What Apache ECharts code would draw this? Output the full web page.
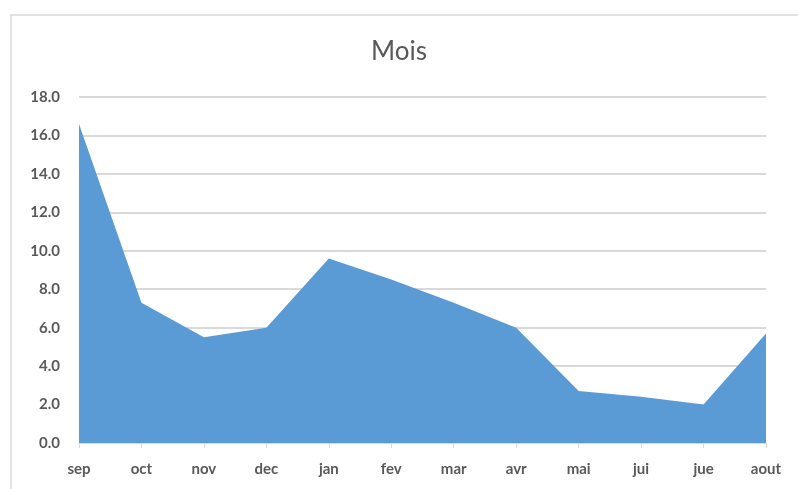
<!DOCTYPE html>
<html>
<head>
<meta charset="utf-8">
<script src="https://cdn.jsdelivr.net/npm/echarts@6/dist/echarts.min.js"></script>
<style>
  html, body { margin: 0; padding: 0; background: #fff; }
  #chart { width: 798px; height: 489px; }
</style>
</head>
<body>
<div id="chart"></div>
<script>
// mois de l'annee scolaire
const months = ['sep', 'oct', 'nov', 'dec', 'jan', 'fev', 'mar', 'avr', 'mai', 'jui', 'jue', 'aout']
const values = [16.6, 7.3, 5.5, 6.0, 9.6, 8.5, 7.3, 6.0, 2.7, 2.4, 2.0, 5.7]
const chartTitle = 'Mois'

const labelColor = '#595959'
const fontName = 'Lato'

const chart = echarts.init(document.getElementById('chart'))

const options = {
  animation: false,
  backgroundColor: '#fff',
  title: {
    text: chartTitle,
    left: 'center',
    top: 34,
    textStyle: { fontFamily: fontName, fontSize: 26, fontWeight: 'normal', color: labelColor }
  },
  grid: { left: 79, right: 32, top: 97, bottom: 46 },
  xAxis: {
    type: 'category',
    data: months,
    boundaryGap: false,
    axisLine: { lineStyle: { color: '#D9D9D9' } },
    axisTick: { show: true, alignWithLabel: true, length: 5, lineStyle: { color: '#D9D9D9' } },
    axisLabel: { color: labelColor, fontFamily: fontName, fontSize: 15, fontWeight: 'bold', margin: 19 }
  },
  yAxis: {
    type: 'value',
    min: 0,
    max: 18,
    interval: 2,
    axisLine: { show: false },
    axisTick: { show: false },
    axisLabel: {
      color: labelColor, fontFamily: fontName, fontSize: 15, fontWeight: 'bold', margin: 19,
      formatter: v => v.toFixed(1)
    },
    splitLine: { lineStyle: { color: '#D9D9D9', width: 2 } }
  },
  series: [{
    type: 'line',
    data: values,
    symbol: 'none',
    lineStyle: { width: 0 },
    areaStyle: { color: '#5B9BD5', opacity: 1 }
  }],
  graphic: [{
    type: 'rect',
    shape: { x: 11, y: 15, width: 800, height: 480 },
    style: { fill: 'none', stroke: '#D9D9D9', lineWidth: 1.5 },
    silent: true
  }]
}

chart.setOption(options)
window.addEventListener('resize', () => chart.resize())
</script>
</body>
</html>
